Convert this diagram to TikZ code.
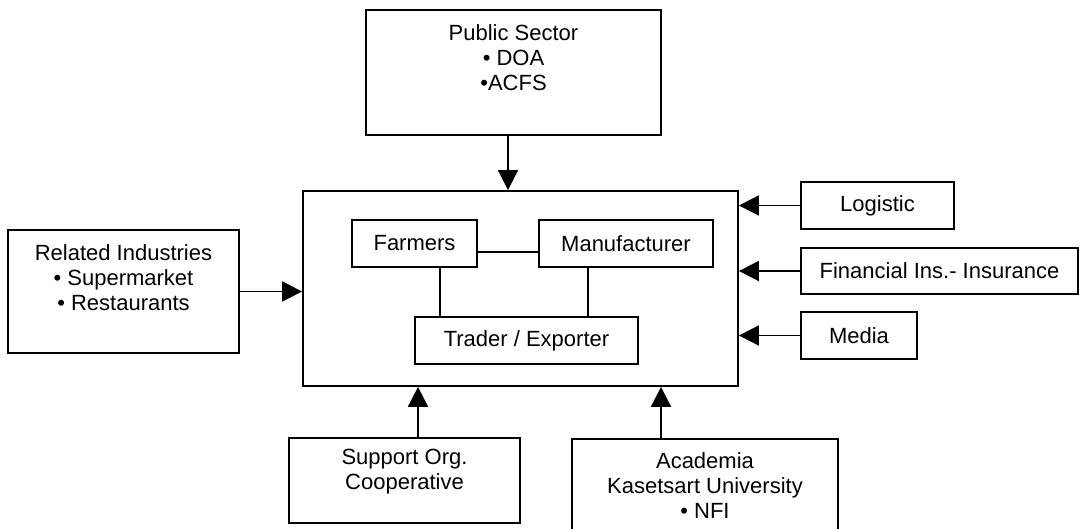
\documentclass[tikz,border=0pt]{standalone}
\usepackage{fontspec}
\setmainfont{Liberation Sans}
\usetikzlibrary{arrows.meta,calc}
\begin{document}
\begin{tikzpicture}[x=1pt,y=-1pt,
  box/.style={draw=black,line width=1.8pt,rectangle,inner sep=0pt},
  txt/.style={inner sep=0pt,align=center,font=\fontsize{22}{25}\selectfont},
  arr/.style={line width=1.8pt,-{Triangle[length=20pt,width=20pt]}},
  link/.style={line width=1.8pt}]
\useasboundingbox (0,0) rectangle (1080,529);
% boxes
\node[box,minimum width=295pt,minimum height=125pt] (pub) at (513.5,72.5) {};
\node[box,minimum width=231pt,minimum height=123pt] (rel) at (123.5,291.5) {};
\node[box,minimum width=435pt,minimum height=195pt] (main) at (520.5,288.5) {};
\node[box,minimum width=125pt,minimum height=47pt] (farm) at (414.5,243.5) {};
\node[box,minimum width=174pt,minimum height=47pt] (manu) at (626,243.5) {};
\node[box,minimum width=223pt,minimum height=47pt] (trad) at (526.5,340.5) {};
\node[box,minimum width=153pt,minimum height=47pt] (logi) at (877.5,205.5) {};
\node[box,minimum width=277pt,minimum height=46pt] (fin) at (939.5,271) {};
\node[box,minimum width=116pt,minimum height=47pt] (media) at (859,335.5) {};
\node[box,minimum width=231pt,minimum height=85pt] (sup) at (404.5,480.5) {};
\node[box,minimum width=266pt,minimum height=106pt] (acad) at (705,492) {};
% texts
\node[txt] (pubt) at (513.5,58) {Public Sector\\• DOA\\•ACFS};
\node[txt] (relt) at (123.5,277.5) {Related Industries\\• Supermarket\\• Restaurants};
\node[txt] (farmt) at (farm) {Farmers};
\node[txt] (manut) at (manu) {Manufacturer};
\node[txt] (tradt) at (trad) {Trader / Exporter};
\node[txt] (logit) at (logi) {Logistic};
\node[txt] (fint) at (fin) {Financial Ins.- Insurance};
\node[txt] (mediat) at (media) {Media};
\node[txt] (supt) at (404.5,472) {Support Org.\\Cooperative};
\node[txt] (acadt) at (705,486) {Academia\\Kasetsart University\hspace*{26pt}\\• NFI};
% helper coordinates
\coordinate (ta) at (508,0);
\coordinate (sa) at (418,0);
\coordinate (aa) at (661,0);
\coordinate (fm) at (0,252);
\coordinate (v1) at (440,0);
\coordinate (v2) at (588,0);
% arrows
\draw[arr] (pub.south -| ta) -- (main.north -| ta);
\draw[arr] (rel.east) -- (main.west |- rel.east);
\draw[arr] (logi.west) -- (main.east |- logi.west);
\draw[arr] (fin.west) -- (main.east |- fin.west);
\draw[arr] (media.west) -- (main.east |- media.west);
\draw[arr] (sup.north -| sa) -- (main.south -| sa);
\draw[arr] (acad.north -| aa) -- (main.south -| aa);
% inner links
\draw[link] (farm.east |- fm) -- (manu.west |- fm);
\draw[link] (farm.south -| v1) -- (trad.north -| v1);
\draw[link] (manu.south -| v2) -- (trad.north -| v2);
\end{tikzpicture}
\end{document}
